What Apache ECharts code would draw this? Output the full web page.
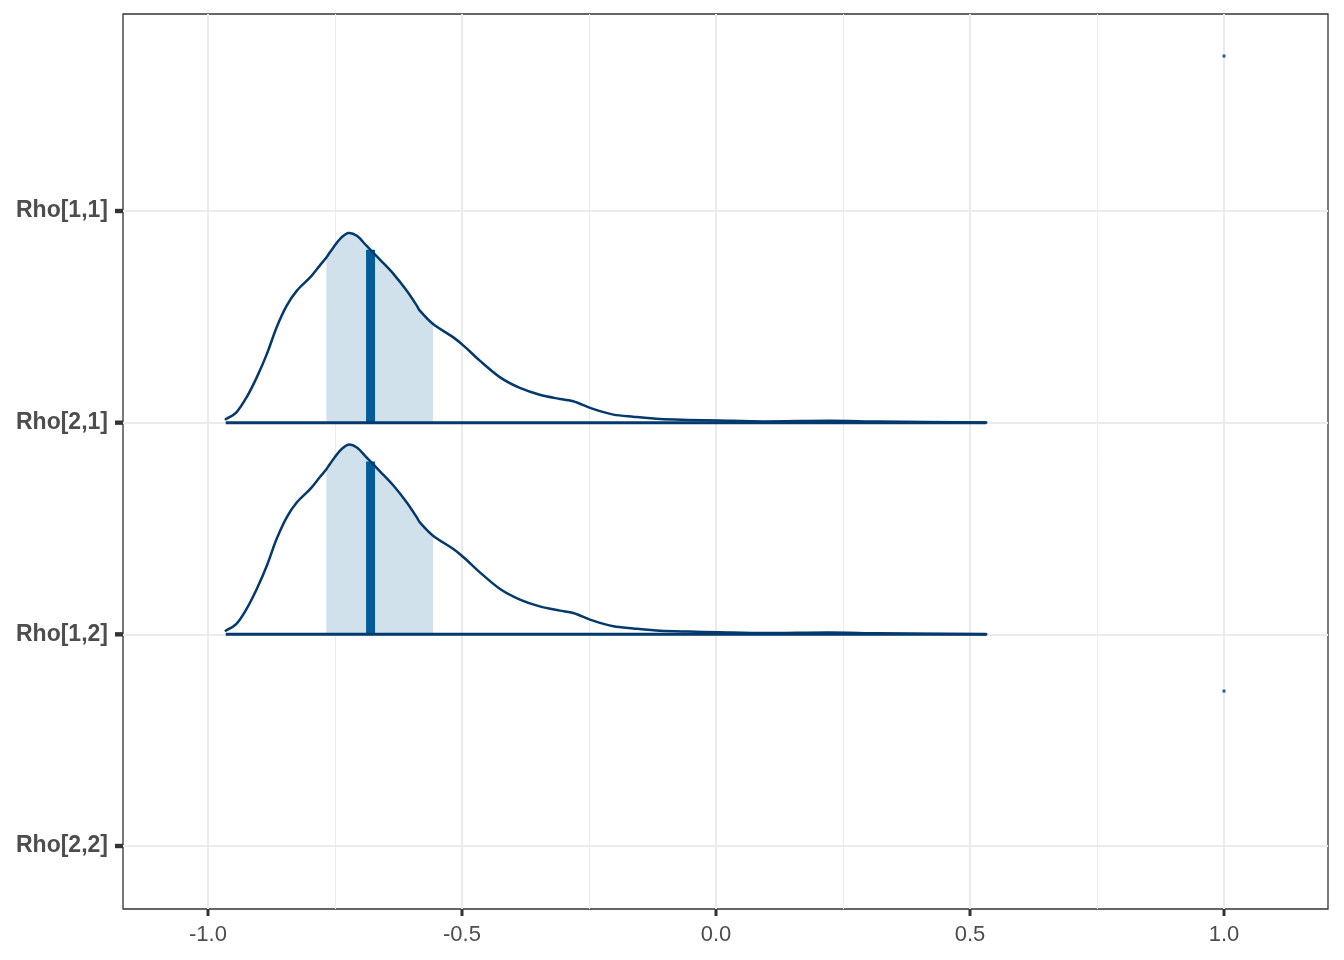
<!DOCTYPE html>
<html>
<head>
<meta charset="utf-8">
<script src="https://cdn.jsdelivr.net/npm/echarts@6/dist/echarts.min.js"></script>
<style>html,body{margin:0;padding:0;background:#fff}#c{width:1344px;height:960px}</style>
</head>
<body>
<div id="c"></div>
<script>
// ---- data ----
const rowLabels = ['Rho[2,2]', 'Rho[1,2]', 'Rho[2,1]', 'Rho[1,1]']; // y positions 1..4
const rowPositions = [1, 2, 3, 4];
const xTicks = [-1.0, -0.5, 0.0, 0.5, 1.0];
const xMinorTicks = [-0.75, -0.25, 0.25, 0.75];

const densX = [-0.965,-0.944,-0.924,-0.904,-0.884,-0.865,-0.845,-0.825,-0.799,-0.780,-0.767,-0.760,-0.740,-0.724,-0.707,-0.688,-0.661,-0.635,-0.609,-0.589,-0.583,-0.557,-0.517,-0.497,-0.465,-0.425,-0.386,-0.347,-0.307,-0.281,-0.242,-0.202,-0.163,-0.110,-0.055,0.005,0.094,0.223,0.321,0.532];
const densRho21 = [0.017,0.049,0.120,0.214,0.325,0.450,0.553,0.624,0.686,0.742,0.780,0.805,0.868,0.896,0.883,0.836,0.769,0.703,0.624,0.553,0.529,0.466,0.403,0.364,0.293,0.214,0.164,0.132,0.112,0.101,0.065,0.038,0.028,0.017,0.013,0.010,0.006,0.009,0.005,0.001];
const densRho12 = [0.017,0.049,0.120,0.214,0.325,0.450,0.553,0.624,0.686,0.742,0.780,0.805,0.868,0.896,0.883,0.836,0.769,0.703,0.624,0.553,0.529,0.466,0.403,0.364,0.293,0.214,0.164,0.132,0.112,0.101,0.065,0.038,0.028,0.017,0.013,0.010,0.006,0.009,0.005,0.001];
const intervalLo = -0.767, intervalHi = -0.557;
const medianX = -0.680, medianH = 0.817;

// degenerate (constant = 1) parameters
const pointMassX = [1.0, 1.0];
const pointMassRow = [4, 1];
const pointMassH = [0.732, 0.732];

const X_MIN = -1.1673, X_MAX = 1.2047, Y_MIN = 0.7024, Y_MAX = 4.9307;

const ridges = [
  { row: 3, dens: densRho21 },
  { row: 2, dens: densRho12 }
];

const DARK = '#03396c', MID_HI = '#005b96', LIGHT = '#d1e1ec';
const FONT = 'Liberation Sans, Arial, Helvetica, sans-serif';

const chart = echarts.init(document.getElementById('c'), null, { renderer: 'canvas' });

function renderRidge(params, api) {
  const r = ridges[params.dataIndex];
  const base = r.row;
  const children = [];
  const shade = [];
  for (let i = 0; i < densX.length; i++) {
    if (densX[i] >= intervalLo - 1e-9 && densX[i] <= intervalHi + 1e-9) shade.push(api.coord([densX[i], base + r.dens[i]]));
  }
  shade.push(api.coord([intervalHi, base]));
  shade.push(api.coord([intervalLo, base]));
  children.push({ type: 'polygon', shape: { points: shade }, style: { fill: LIGHT, stroke: null } });
  const m0 = api.coord([medianX, base]), m1 = api.coord([medianX, base + medianH]);
  children.push({ type: 'line', shape: { x1: m0[0], y1: m0[1], x2: m1[0], y2: m1[1] }, style: { stroke: MID_HI, lineWidth: 9 } });
  const pts = densX.map((x, i) => api.coord([x, base + r.dens[i]]));
  children.push({ type: 'polyline', shape: { points: pts, smooth: 0.3 }, style: { stroke: DARK, lineWidth: 2.5, fill: null, lineJoin: 'round', lineCap: 'round' } });
  const b0 = api.coord([densX[0], base]), b1 = api.coord([densX[densX.length - 1], base]);
  children.push({ type: 'line', shape: { x1: b0[0], y1: b0[1], x2: b1[0], y2: b1[1] }, style: { stroke: DARK, lineWidth: 3 } });
  return { type: 'group', children: children };
}

// axis tick marks (positioned through the axis scales)
function renderTicks(params, api) {
  const children = [];
  xTicks.forEach(v => {
    const p = api.coord([v, Y_MIN]);
    children.push({ type: 'rect', shape: { x: p[0] - 1.5, y: p[1], width: 3, height: 7 }, style: { fill: '#333333' } });
  });
  rowPositions.forEach(v => {
    const p = api.coord([X_MIN, v]);
    children.push({ type: 'rect', shape: { x: p[0] - 8, y: p[1] - 2.2, width: 8, height: 4.4 }, style: { fill: '#333333' } });
  });
  return { type: 'group', children: children };
}

const gridLines = [];
xTicks.forEach(v => gridLines.push({ xAxis: v, lineStyle: { color: '#ebebeb', width: 2, type: 'solid' } }));
xMinorTicks.forEach(v => gridLines.push({ xAxis: v, lineStyle: { color: '#ebebeb', width: 1, type: 'solid' } }));
rowPositions.forEach(v => gridLines.push({ yAxis: v, lineStyle: { color: '#ebebeb', width: 2, type: 'solid' } }));

chart.setOption({
  animation: false,
  backgroundColor: '#ffffff',
  grid: { left: 123, right: 16, top: 14, bottom: 51, show: true, borderColor: '#333333', borderWidth: 1.3, backgroundColor: '#ffffff' },
  xAxis: {
    type: 'value', min: X_MIN, max: X_MAX,
    axisLine: { show: false, onZero: false },
    axisTick: { show: false },
    axisLabel: { customValues: xTicks, formatter: v => (Math.abs(v) < 1e-9 ? 0 : v).toFixed(1), fontSize: 22, color: '#4d4d4d', margin: 15, fontFamily: FONT },
    splitLine: { show: false }, minorSplitLine: { show: false }
  },
  yAxis: {
    type: 'value', min: Y_MIN, max: Y_MAX,
    axisLine: { show: false, onZero: false },
    axisTick: { show: false },
    axisLabel: { customValues: rowPositions, formatter: v => rowLabels[Math.round(v) - 1], fontSize: 23, fontWeight: 'bold', color: '#4d4d4d', margin: 15, fontFamily: FONT },
    splitLine: { show: false }
  },
  series: [
    {
      type: 'scatter', z: 1, silent: true,
      symbol: 'rect', symbolSize: [3, 3],
      itemStyle: { color: DARK },
      data: pointMassX.map((x, i) => [x, pointMassRow[i] + pointMassH[i]]),
      markLine: { silent: true, symbol: ['none', 'none'], label: { show: false }, data: gridLines, z: 0 }
    },
    {
      type: 'custom', z: 3, silent: true,
      renderItem: renderRidge,
      encode: { x: 0, y: 1 },
      data: ridges.map(r => [densX[0], r.row])
    },
    {
      type: 'custom', z: 5, silent: true, clip: false,
      renderItem: renderTicks,
      encode: { x: 0, y: 1 },
      data: [[X_MIN, Y_MIN]]
    }
  ]
});
</script>
</body>
</html>
